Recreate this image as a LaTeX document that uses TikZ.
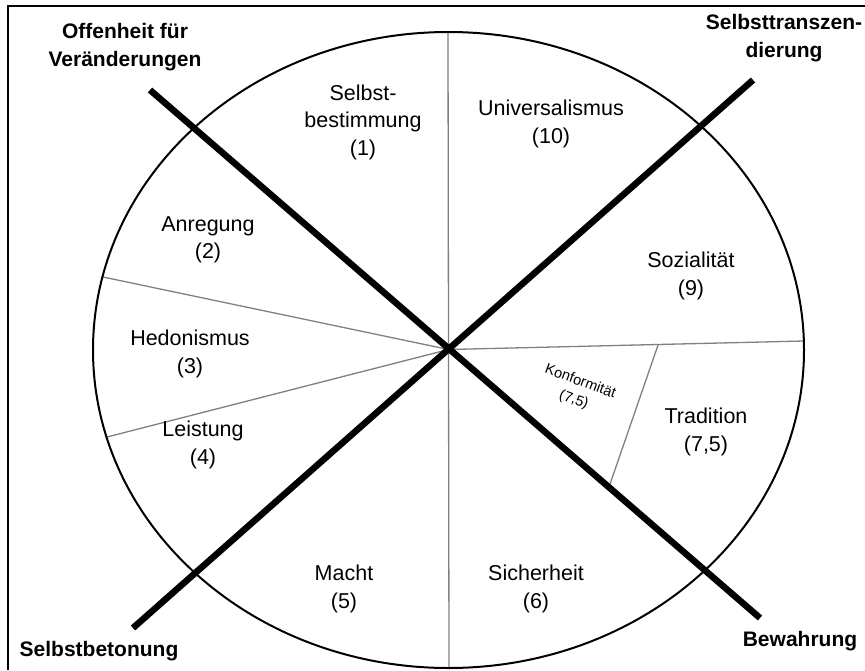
\documentclass[tikz,border=0pt]{standalone}
\usepackage{fontspec}
\setmainfont{Liberation Sans}
\usetikzlibrary{calc}
\tikzstyle{val} = [align=center, inner sep=0pt, font=\fontsize{21.5}{27.5}\selectfont]
\tikzstyle{pole} = [align=center, inner sep=0pt, font=\fontsize{21}{28}\selectfont\bfseries]
\tikzstyle{small} = [align=center, inner sep=0pt, font=\fontsize{14.5}{19}\selectfont]
\tikzstyle{sep} = [draw, black!50, line width=1.3pt]
\tikzstyle{axis} = [draw, black, line width=6.5pt]

\begin{document}
\begin{tikzpicture}[x=1pt, y=-1pt]
	\useasboundingbox (0,0) rectangle (865,670);
	% frame (cut off at right and bottom)
	\draw [line width=2.5pt] (8,670) -- (8,6) -- (865,6);

	\coordinate (O) at (448.5,349.5);
	\coordinate (top) at (448,32);
	\coordinate (bot) at (449,668);
	\coordinate (r9) at (804,341);
	\coordinate (l2) at (103,277);
	\coordinate (l4) at (107,437);
	\coordinate (k1) at ($(O)!0.59!(r9)$);
	\coordinate (k2) at (609,487);

	% sectors
	\path [sep] (top) -- (O) -- (bot);
	\path [sep] (O) -- (r9);
	\path [sep] (O) -- (l2);
	\path [sep] (O) -- (l4);
	\path [sep] (k1) -- (k2);

	\draw [line width=2pt] (448.5,350) ellipse [x radius=355.5, y radius=318];

	% the two axes
	\coordinate (a1) at (150,90);
	\coordinate (a2) at (760,618);
	\coordinate (b1) at (753,80);
	\coordinate (b2) at (133,628);
	\path [axis] (a1) -- (a2);
	\path [axis] (b1) -- (b2);

	\node [pole] (offen) at (125,47) {Offenheit für\\Veränderungen};
	\node [pole] (trans) at (784,38) {Selbsttranszen-\\dierung};
	\node [pole] (beton) at (99,651) {Selbstbetonung};
	\node [pole] (bewahr) at (800,641) {Bewahrung};

	\node [val] (v1) at (363,122) {Selbst-\\bestimmung\\(1)};
	\node [val] (v10) at (551,124) {Universalismus\\(10)};
	\node [val] (v2) at (208,240) {Anregung\\(2)};
	\node [val] (v9) at (691,276) {Sozialität\\(9)};
	\node [val] (v3) at (190,354) {Hedonismus\\(3)};
	\node [val] (v4) at (203,445) {Leistung\\(4)};
	\node [val] (v75) at (706,432) {Tradition\\(7,5)};
	\node [val] (v5) at (344,589) {Macht\\(5)};
	\node [val] (v6) at (536,589) {Sicherheit\\(6)};
	\node [small, rotate=-20] (kon) at (577,391) {Konformität\\(7,5)};
\end{tikzpicture}
\end{document}
